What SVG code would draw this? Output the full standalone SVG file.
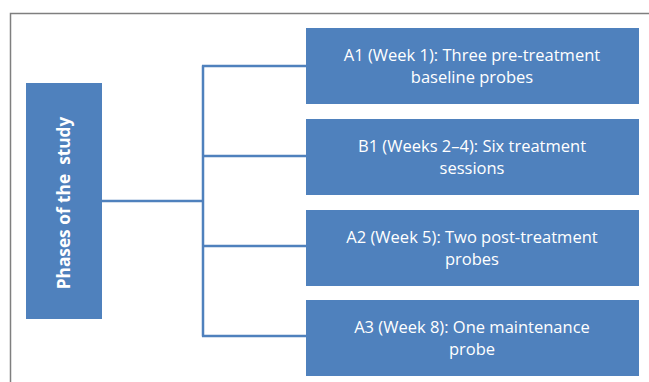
<svg xmlns="http://www.w3.org/2000/svg" width="649" height="382" viewBox="0 0 649 382">
<style>
.box{fill:#4F81BD;}
.t{fill:#fff;font-family:"Open Sans","Liberation Sans",sans-serif;font-size:16.5px;text-anchor:middle;}
.tb{fill:#fff;font-family:"Open Sans","Liberation Sans",sans-serif;font-size:17.3px;font-weight:bold;text-anchor:middle;}
.c{stroke:#4F81BD;stroke-width:2.5;fill:none;}
</style>
<rect width="649" height="382" fill="#fff"/>
<path d="M10.5,382 V13.5 H649" stroke="#7f7f7f" stroke-width="1.5" fill="none"/>
<g id="connectors">
<path class="c" d="M102,201 H203"/>
<path class="c" d="M203,65.5 V336.5"/>
<path class="c" d="M202,66 H306 M202,156 H306 M202,246 H306 M202,336 H306"/>
</g>
<g id="phases">
<rect class="box" x="26" y="83" width="76" height="236"/>
<text class="tb" transform="translate(70,203) rotate(-90)" xml:space="preserve">Phases of the  study</text>
</g>
<g id="a1">
<rect class="box" x="306" y="28" width="333" height="76"/>
<text class="t" x="472" y="61">A1 (Week 1): Three pre-treatment</text>
<text class="t" x="472" y="83">baseline probes</text>
</g>
<g id="b1">
<rect class="box" x="306" y="119" width="333" height="76"/>
<text class="t" x="472" y="152">B1 (Weeks 2–4): Six treatment</text>
<text class="t" x="472" y="174">sessions</text>
</g>
<g id="a2">
<rect class="box" x="306" y="210" width="333" height="76"/>
<text class="t" x="472" y="243">A2 (Week 5): Two post-treatment</text>
<text class="t" x="472" y="265">probes</text>
</g>
<g id="a3">
<rect class="box" x="306" y="300" width="333" height="76"/>
<text class="t" x="472" y="333">A3 (Week 8): One maintenance</text>
<text class="t" x="472" y="355">probe</text>
</g>
</svg>
